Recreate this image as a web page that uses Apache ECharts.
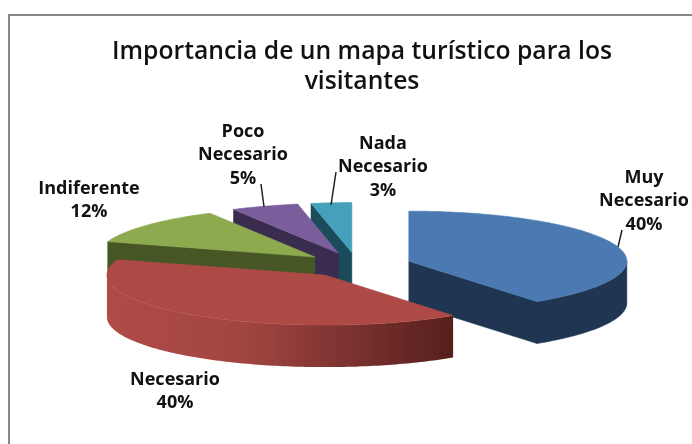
<!DOCTYPE html>
<html>
<head>
<meta charset="utf-8">
<style>html,body{margin:0;padding:0;background:#fff}#c{width:692px;height:444px}</style>
<script src="https://cdn.jsdelivr.net/npm/echarts@6/dist/echarts.min.js"></script>
</head>
<body>
<div id="c"></div>
<script>
const categories = ['Muy Necesario', 'Necesario', 'Indiferente', 'Poco Necesario', 'Nada Necesario'];
const values = [40, 40, 12, 5, 3];
const chartTitle = 'Importancia de un mapa turístico para los\nvisitantes';

const topColors = ['#4a7ab1', '#ae4a46', '#8daa4e', '#7a5e9b', '#45a0bb'];
const wallColors = ['#1f3552', '#5a221e', '#465625', '#3a2c4e', '#1c4b5b'];
const paintOrder = [0, 4, 3, 2, 1];

const PIE = {cx: 357, cy: 265, rx: 218, ry: 50, depth: 42, explode: 0.25};
const FONT = '"Open Sans", "Noto Sans", sans-serif';
const labelAnchors = [[644, 166], [175, 368], [89, 177], [243, 120], [383, 132]];
const leaders = [
  [[622, 230], [618, 247]], null, null,
  [[261, 184], [264, 207]],
  [[336, 172], [331, 205]]
];

const total = values.reduce((a, b) => a + b, 0);
const angles = [];
values.reduce((acc, v) => { angles.push([acc, acc + v / total * 360]); return acc + v / total * 360; }, 0);

const rad = d => d * Math.PI / 180;
function sliceGeom(i) {
  const [a0, a1] = angles[i], mid = rad((a0 + a1) / 2);
  const ax = PIE.cx + PIE.explode * PIE.rx * Math.sin(mid);
  const ay = PIE.cy - PIE.explode * PIE.ry * Math.cos(mid);
  const rim = d => [ax + PIE.rx * Math.sin(rad(d)), ay - PIE.ry * Math.cos(rad(d))];
  return {a0, a1, ax, ay, rim};
}
const down = p => [p[0], p[1] + PIE.depth];

function renderSlice(params, api) {
  const i = api.value(0), g = sliceGeom(i), children = [];
  const apex = [g.ax, g.ay];
  const wallStyle = {fill: wallColors[i], stroke: wallColors[i], lineWidth: 0.5};
  const addFace = a => {
    const p = g.rim(a);
    children.push({type: 'polygon', shape: {points: [apex, p, down(p), down(apex)]}, style: wallStyle});
  };
  if (Math.sin(rad(g.a0)) < -1e-6) addFace(g.a0);
  if (Math.sin(rad(g.a1)) > 1e-6) addFace(g.a1);
  const w0 = Math.max(g.a0, 90), w1 = Math.min(g.a1, 270);
  if (w1 > w0) {
    const upper = [], lower = [];
    for (let d = w0; d <= w1 + 1e-6; d += 1) { const p = g.rim(d); upper.push(p); lower.unshift(down(p)); }
    const style = i === 1
      ? {fill: new echarts.graphic.LinearGradient(1, 0, 0, 0, [
          {offset: 0, color: '#551f1b'}, {offset: 0.3, color: '#7c3230'},
          {offset: 0.6, color: '#a14541'}, {offset: 1, color: '#b04b47'}])}
      : wallStyle;
    children.push({type: 'polygon', shape: {points: upper.concat(lower)}, style});
  }
  const top = [apex];
  for (let d = g.a0; d < g.a1; d += 1) top.push(g.rim(d));
  top.push(g.rim(g.a1));
  children.push({type: 'polygon', shape: {points: top}, style: {fill: topColors[i], stroke: topColors[i], lineWidth: 0.6}});
  return {type: 'group', children};
}

function renderLabel(params, api) {
  const i = api.value(0), a = labelAnchors[i], children = [];
  const name = categories[i].replace(' ', '\n');
  children.push({type: 'text', style: {
    text: name + '\n' + values[i] + '%', x: a[0], y: a[1],
    textAlign: 'center', textVerticalAlign: 'top',
    font: 'bold 18px ' + FONT, lineHeight: 23.5, fill: '#111'
  }});
  if (leaders[i]) {
    children.push({type: 'line', shape: {
      x1: leaders[i][0][0], y1: leaders[i][0][1], x2: leaders[i][1][0], y2: leaders[i][1][1]
    }, style: {stroke: '#222', lineWidth: 1.5}});
  }
  return {type: 'group', children};
}

const chart = echarts.init(document.getElementById('c'), null, {renderer: 'canvas'});
chart.setOption({
  animation: false,
  backgroundColor: '#fff',
  title: {
    text: chartTitle, left: 357, top: 32, textAlign: 'center',
    textStyle: {fontFamily: FONT, fontSize: 24.7, fontWeight: 600, color: '#111', lineHeight: 30}
  },
  graphic: [{
    type: 'polyline', silent: true,
    shape: {points: [[692, 15], [9, 15], [9, 444]]},
    style: {stroke: '#868686', lineWidth: 2, fill: null}
  }],
  series: [
    {type: 'custom', coordinateSystem: 'none', renderItem: renderSlice, data: paintOrder.map(i => [i]), silent: true, z: 2},
    {type: 'custom', coordinateSystem: 'none', renderItem: renderLabel, data: categories.map((c, i) => [i]), silent: true, z: 3}
  ]
});
</script>
</body>
</html>
